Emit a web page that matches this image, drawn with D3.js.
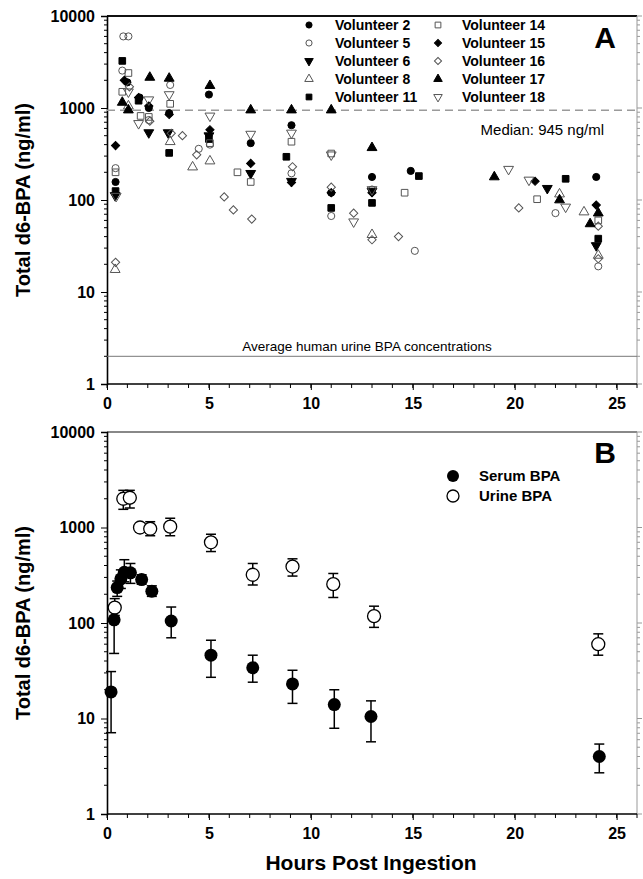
<!DOCTYPE html>
<html><head><meta charset="utf-8">
<script src="https://cdn.jsdelivr.net/npm/d3@7"></script>
<style>body{margin:0;background:#fff}svg{display:block}text{font-family:"Liberation Sans",Arial,sans-serif}</style>
</head><body><svg id="c" width="643" height="879"></svg>
<script>
// ---------- Panel A data: [hours, ng/ml] ----------
const vol2  = [[0.42,157],[1.0,1900],[1.6,1300],[2.05,1000],[3.05,880],[5.0,1400],[7.05,415],[9.05,650],[11.0,120],[13.0,178],[14.9,207],[24.0,178]];
const vol5  = [[0.42,222],[0.8,6000],[1.05,6000],[0.75,2550],[2.05,740],[3.1,1780],[4.5,360],[5.05,400],[9.05,195],[11.0,67],[13.0,130],[15.1,28],[22.0,72],[24.1,19]];
const vol6  = [[0.4,112],[2.05,540],[3.0,540],[5.0,500],[7.05,195],[9.05,160],[13.0,125],[21.6,134],[24.0,32]];
const vol8  = [[0.4,17.5],[1.05,1050],[3.1,430],[4.2,228],[5.05,265],[13.0,42],[22.2,116],[23.4,74],[24.1,25]];
const vol11 = [[0.42,125],[0.75,3250],[1.55,1200],[3.05,325],[5.0,460],[8.8,295],[11.0,82],[13.0,93],[15.3,182],[22.5,170],[24.1,38]];
const vol14 = [[0.42,200],[0.75,1500],[1.05,2400],[1.65,820],[2.05,800],[3.1,1110],[5.05,415],[6.4,200],[7.05,157],[9.05,430],[11.0,320],[14.6,120],[21.1,102],[24.1,60]];
const vol15 = [[0.42,390],[0.85,2000],[1.55,1300],[2.05,1050],[3.05,850],[5.05,580],[7.05,250],[9.05,155],[11.0,120],[13.0,120],[21.0,160],[24.0,88]];
const vol16 = [[0.42,21],[1.1,1700],[2.1,720],[3.15,530],[3.7,500],[4.4,310],[5.75,108],[6.2,78],[7.1,62],[9.1,230],[11.0,138],[12.1,72],[13.0,37],[14.3,40],[20.2,82],[24.1,52],[24.1,23]];
const vol17 = [[0.75,1150],[1.05,950],[2.1,2150],[3.05,2100],[5.05,1750],[7.05,950],[9.05,950],[11.0,950],[13.0,370],[19.0,178],[22.2,100],[23.7,55],[24.1,72]];
const vol18 = [[0.45,110],[1.05,1500],[1.55,680],[2.05,1230],[3.05,1400],[5.05,820],[7.05,520],[9.05,535],[11.0,310],[12.1,58],[13.0,130],[19.7,216],[20.7,165],[22.5,84]];
const volunteerNames = ["Volunteer 2","Volunteer 5","Volunteer 6","Volunteer 8","Volunteer 11","Volunteer 14","Volunteer 15","Volunteer 16","Volunteer 17","Volunteer 18"];
const medianValue = 945;
const urineAverage = 2;

// ---------- Panel B data ----------
const serumHours = [0.2,0.35,0.5,0.68,0.85,1.15,1.7,2.2,3.15,5.1,7.15,9.1,11.15,12.95,24.15];
const serumMean  = [19,108,235,290,340,335,285,215,105,46,34,23,14,10.5,4.0];
const serumLow   = [7.1,48,190,230,270,260,255,190,70,27,24,14.4,7.9,5.7,2.7];
const serumHigh  = [31,150,275,360,460,420,320,245,147,66,46,32,20,15.3,5.4];
const urineHours = [0.38,0.8,1.12,1.62,2.12,3.1,5.1,7.15,9.1,11.1,13.1,24.1];
const urineMean  = [145,2000,2050,1000,970,1020,700,320,390,255,118,60];
const urineLow   = [120,1550,1600,900,820,820,560,250,310,185,90,46];
const urineHigh  = [180,2450,2450,1100,1150,1250,850,420,470,330,150,77];

const xTicks = [0,5,10,15,20,25];
const yTicks = [1,10,100,1000,10000];

// ---------- drawing ----------
const svg = d3.select("#c");
const x = d3.scaleLinear().domain([0,26]).range([107,637]);
const yA = d3.scaleLog().domain([1,10000]).range([384,16]);
const yB = d3.scaleLog().domain([1,10000]).range([814,432]);

const minorY = [];
for (let d=1; d<10000; d*=10) for (let k=2;k<=9;k++) minorY.push(d*k);
const minorX = d3.range(0,27,1);

function frame(y, top, bottom, topColor){
  const g = svg.append("g");
  g.append("line").attr("x1",x(0)).attr("x2",x(26)).attr("y1",top).attr("y2",top).attr("stroke",topColor).attr("stroke-width",2);
  g.append("line").attr("x1",x(26)).attr("x2",x(26)).attr("y1",top).attr("y2",bottom).attr("stroke","#999").attr("stroke-width",1);
  g.selectAll(".rt").data(minorY).enter().append("line")
    .attr("x1",x(26)).attr("x2",x(26)+3).attr("y1",d=>y(d)).attr("y2",d=>y(d)).attr("stroke","#999");
  g.selectAll(".rT").data(yTicks).enter().append("line")
    .attr("x1",x(26)).attr("x2",x(26)+5).attr("y1",d=>y(d)).attr("y2",d=>y(d)).attr("stroke","#999");
  const ax = d3.axisLeft(y).tickValues(yTicks).tickFormat(d3.format("d")).tickSize(6).tickPadding(6);
  const ga = g.append("g").attr("transform",`translate(${x(0)},0)`).call(ax);
  ga.select(".domain").attr("stroke","#000").attr("stroke-width",1.6);
  ga.selectAll("text").attr("font-size",16).attr("font-weight","bold").attr("fill","#000");
  g.selectAll(".lm").data(minorY).enter().append("line")
    .attr("x1",x(0)-3).attr("x2",x(0)).attr("y1",d=>y(d)).attr("y2",d=>y(d)).attr("stroke","#000");
  const bx = d3.axisBottom(x).tickValues(xTicks).tickFormat(d3.format("d")).tickSize(6).tickPadding(8);
  const gb = g.append("g").attr("transform",`translate(0,${bottom})`).call(bx);
  gb.select(".domain").attr("stroke","#000").attr("stroke-width",1.6).attr("d",`M${x(0)},0H${x(26)}`);
  gb.selectAll("text").attr("font-size",16).attr("font-weight","bold").attr("fill","#000");
  g.selectAll(".bm").data(minorX).enter().append("line")
    .attr("x1",d=>x(d)).attr("x2",d=>x(d)).attr("y1",bottom).attr("y2",bottom+4).attr("stroke","#000");
  svg.append("text").attr("transform",`translate(30,${(top+bottom)/2}) rotate(-90)`)
    .attr("text-anchor","middle").attr("font-size",20).attr("font-weight","bold").text("Total d6-BPA (ng/ml)");
}

frame(yA, 16, 384, "#111");
frame(yB, 432, 814, "#888");

svg.append("line").attr("x1",x(0)).attr("x2",x(26)).attr("y1",yA(medianValue)).attr("y2",yA(medianValue))
  .attr("stroke","#9a9a9a").attr("stroke-width",1.5).attr("stroke-dasharray","8,5");
svg.append("text").attr("x",604).attr("y",yA(medianValue)+25).attr("text-anchor","end").attr("font-size",15).text("Median: 945 ng/ml");
svg.append("line").attr("x1",x(0)).attr("x2",x(26)).attr("y1",yA(urineAverage)).attr("y2",yA(urineAverage))
  .attr("stroke","#777").attr("stroke-width",1);
svg.append("text").attr("x",367).attr("y",yA(urineAverage)-5).attr("text-anchor","middle").attr("font-size",13.5).text("Average human urine BPA concentrations");

// symbols (diamond = square rotated 45deg)
const styles = [
  {type:d3.symbolCircle, fill:"#000", rot:0, size:40},
  {type:d3.symbolCircle, fill:"none", rot:0, size:40},
  {type:d3.symbolTriangle, fill:"#000", rot:180, size:42},
  {type:d3.symbolTriangle, fill:"none", rot:0, size:42},
  {type:d3.symbolSquare, fill:"#000", rot:0, size:44},
  {type:d3.symbolSquare, fill:"none", rot:0, size:44},
  {type:d3.symbolSquare, fill:"#000", rot:45, size:34},
  {type:d3.symbolSquare, fill:"none", rot:45, size:34},
  {type:d3.symbolTriangle, fill:"#000", rot:0, size:42},
  {type:d3.symbolTriangle, fill:"none", rot:180, size:42}
];
const allVols = [vol2,vol5,vol6,vol8,vol11,vol14,vol15,vol16,vol17,vol18];
function sym(g, st, cx, cy, scale){
  const s = st.size*(scale||1);
  g.append("path").attr("d",d3.symbol().type(st.type).size(s)())
    .attr("transform",`translate(${cx},${cy}) rotate(${st.rot})`)
    .attr("fill",st.fill==="none"?"#fff":st.fill).attr("fill-opacity",st.fill==="none"?0:1)
    .attr("stroke", st.fill==="none"?"#555":"#000").attr("stroke-width",1);
}
const gA = svg.append("g");
allVols.forEach((vals,i)=>{
  vals.forEach(d=>sym(gA, styles[i], x(d[0]), yA(d[1])));
});

volunteerNames.forEach((n,i)=>{
  const col = i<5?0:1, row = i%5;
  const sx = col===0?309:438, tx = col===0?335:462, ty = 25+row*18;
  sym(svg, styles[i], sx, ty, 0.75);
  svg.append("text").attr("x",tx).attr("y",ty+5).attr("font-size",14).attr("font-weight","bold").text(n);
});
svg.append("text").attr("x",605).attr("y",48).attr("text-anchor","middle").attr("font-size",30).attr("font-weight","bold").text("A");

const gB = svg.append("g");
function errbars(hours, lo, hi){
  hours.forEach((h,i)=>{
    const cx = x(h);
    gB.append("line").attr("x1",cx).attr("x2",cx).attr("y1",yB(lo[i])).attr("y2",yB(hi[i])).attr("stroke","#000").attr("stroke-width",1.5);
    [lo[i],hi[i]].forEach(v=>gB.append("line").attr("x1",cx-5).attr("x2",cx+5).attr("y1",yB(v)).attr("y2",yB(v)).attr("stroke","#000").attr("stroke-width",1.5));
  });
}
errbars(urineHours, urineLow, urineHigh);
errbars(serumHours, serumLow, serumHigh);
urineHours.forEach((h,i)=>gB.append("circle").attr("cx",x(h)).attr("cy",yB(urineMean[i])).attr("r",6.5).attr("fill","#fff").attr("stroke","#000").attr("stroke-width",1.3));
serumHours.forEach((h,i)=>gB.append("circle").attr("cx",x(h)).attr("cy",yB(serumMean[i])).attr("r",6.5).attr("fill","#000"));

svg.append("circle").attr("cx",453).attr("cy",476).attr("r",6).attr("fill","#000");
svg.append("circle").attr("cx",453).attr("cy",496).attr("r",6).attr("fill","#fff").attr("stroke","#000").attr("stroke-width",1.3);
svg.append("text").attr("x",479).attr("y",481).attr("font-size",15).attr("font-weight","bold").text("Serum BPA");
svg.append("text").attr("x",479).attr("y",501).attr("font-size",15).attr("font-weight","bold").text("Urine BPA");
svg.append("text").attr("x",605).attr("y",463).attr("text-anchor","middle").attr("font-size",30).attr("font-weight","bold").text("B");

svg.append("text").attr("x",371).attr("y",870).attr("text-anchor","middle").attr("font-size",21).attr("font-weight","bold").text("Hours Post Ingestion");
</script></body></html>
